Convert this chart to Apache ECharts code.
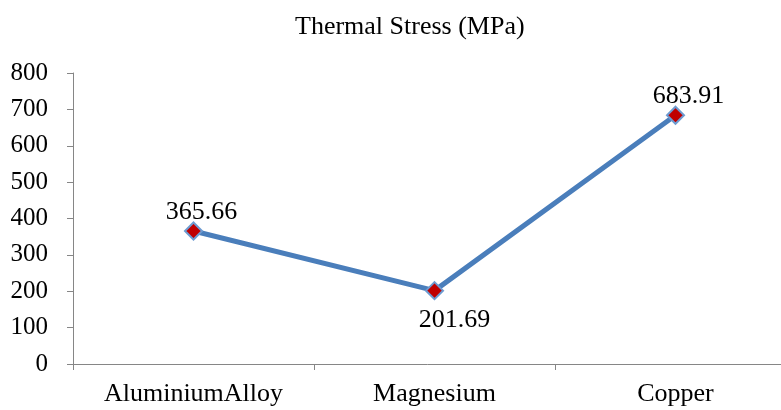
<!DOCTYPE html>
<html><head><meta charset="utf-8">
<script src="https://cdn.jsdelivr.net/npm/echarts@6/dist/echarts.min.js"></script>
<style>html,body{margin:0;padding:0;background:#fff}#c{width:781px;height:410px}</style>
</head><body><div id="c"></div>
<script>
const categories = ['AluminiumAlloy', 'Magnesium', 'Copper'];
const stressValues = [365.66, 201.69, 683.91];
const yTicks = [0, 100, 200, 300, 400, 500, 600, 700, 800];
const titleText = 'Thermal Stress (MPa)';

const labelOffsets = [[8, 4, 'top'], [20, 7, 'bottom'], [13, 3, 'top']];
const font = 'Liberation Serif, Times New Roman, serif';
const chart = echarts.init(document.getElementById('c'), null, {renderer: 'canvas'});
chart.setOption({
  backgroundColor: '#fff',
  animation: false,
  title: {text: titleText, left: 290, top: 9,
    textStyle: {fontFamily: font, fontSize: 26, fontWeight: 'normal', color: '#000'}},
  grid: {left: 73, top: 73, right: -15, bottom: 46, outerBoundsMode: 'none', containLabel: false},
  xAxis: {type: 'category', data: categories, boundaryGap: true,
    axisLine: {lineStyle: {color: '#868686', width: 1}},
    axisTick: {show: true, length: 6, lineStyle: {color: '#868686'}},
    axisLabel: {fontFamily: font, fontSize: 26, color: '#000', margin: 17}},
  yAxis: {type: 'value', min: yTicks[0], max: yTicks[yTicks.length - 1], interval: 100,
    splitLine: {show: false},
    axisLine: {show: true, lineStyle: {color: '#868686', width: 1}},
    axisTick: {show: true, length: 6, lineStyle: {color: '#868686'}},
    axisLabel: {fontFamily: font, fontSize: 25, color: '#000', margin: 25}},
  series: [{
    type: 'line',
    data: stressValues.map((v, i) => ({value: v,
      label: {position: labelOffsets[i][2], offset: [labelOffsets[i][0], labelOffsets[i][1]]}})),
    lineStyle: {color: '#4A7EBB', width: 5},
    symbol: 'diamond', symbolSize: 17,
    itemStyle: {color: '#C00000', borderColor: '#6D9BD1', borderWidth: 2},
    label: {show: true, fontFamily: font, fontSize: 26, color: '#000', distance: 0,
      formatter: p => p.value.toFixed(2)}
  }]
});
</script></body></html>
